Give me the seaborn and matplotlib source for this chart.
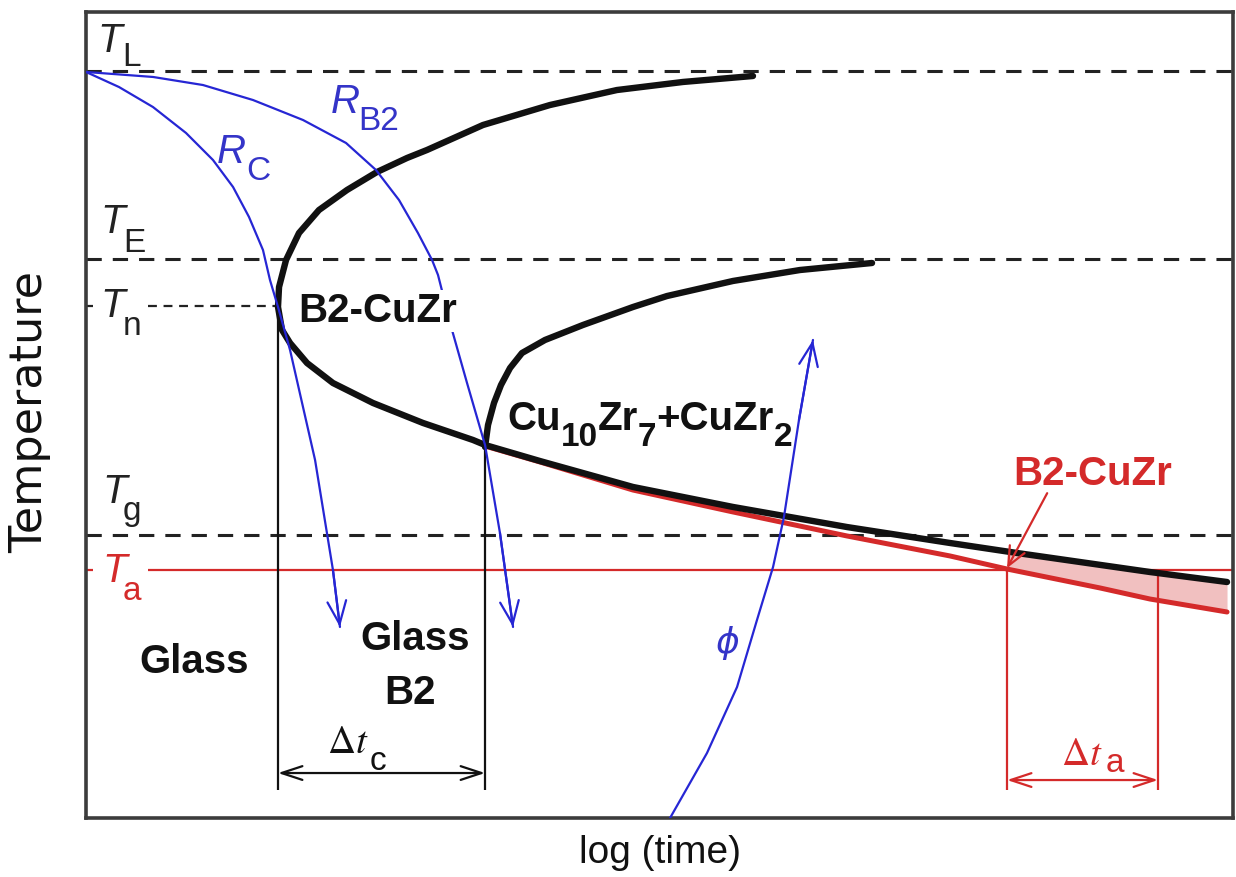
import numpy as np
import matplotlib
matplotlib.use("Agg")
import matplotlib.pyplot as plt
import seaborn as sns

# ---------------- data (arbitrary units: log time 0-100, temperature 0-100) -------------
T_L, T_E, T_n, T_g, T_a = 92.68, 69.35, 63.52, 35.11, 30.77

# B2-CuZr C-curve (upper branch -> nose -> lower branch)
b2_x = [58.15, 52.05, 46.29, 40.45, 34.61, 29.73, 27.99, 25.37, 22.76, 20.31, 18.57, 17.44,
        16.83, 16.74, 17.09, 17.79, 19.27, 21.53, 25.02, 29.38, 33.74, 34.79, 39.58, 47.69,
        56.41, 66.35, 75.33, 81.17, 92.76, 99.48]
b2_y = [92.06, 91.32, 90.32, 88.46, 85.98, 82.88, 81.89, 80.15, 77.92, 75.43, 72.58, 69.23,
        65.88, 63.40, 60.55, 58.93, 56.45, 53.97, 51.49, 49.01, 46.90, 46.28, 44.29, 41.07,
        38.59, 36.10, 34.12, 32.88, 30.52, 29.28]

# Cu10Zr7 + CuZr2 curve
cz_x = [34.79, 35.05, 35.57, 36.18, 36.97, 38.01, 40.02, 43.33, 47.69, 50.65, 56.41, 62.25, 68.53]
cz_y = [46.03, 48.76, 51.49, 53.72, 55.83, 57.69, 59.31, 61.17, 63.40, 64.76, 66.63, 67.99, 68.86]

# B2-CuZr curve (red)
red_x = [34.79, 39.58, 47.69, 56.41, 66.35, 75.33, 80.30, 88.41, 92.76, 99.48]
red_y = [46.15, 44.17, 40.69, 37.97, 34.99, 32.51, 30.89, 28.54, 27.17, 25.56]

# shaded region between the two curves
fill_x = [80.30, 84.05, 88.41, 92.76, 97.12, 99.48]
fill_hi = [33.00, 32.26, 31.39, 30.52, 29.78, 29.28]
fill_lo = [30.89, 29.65, 28.54, 27.17, 26.18, 25.56]

# cooling / heating paths
rc_x = [0.00, 2.88, 5.84, 8.72, 11.07, 12.82, 14.21, 15.43, 16.04, 16.74, 17.79, 18.74, 19.97, 21.53, 22.14]
rc_y = [92.56, 90.69, 88.21, 84.99, 81.64, 78.29, 74.57, 70.47, 66.75, 63.40, 58.06, 52.11, 44.42, 30.77, 23.70]
rb_x = [0.00, 5.84, 10.20, 14.56, 18.92, 22.67, 25.28, 27.29, 28.94, 30.17, 30.69, 31.91, 33.22, 34.79, 36.09, 37.23]
rb_y = [92.56, 91.94, 90.94, 89.08, 86.60, 83.75, 80.40, 76.67, 72.58, 69.23, 67.37, 60.55, 53.97, 46.28, 35.36, 23.70]
phi_x = [50.92, 54.14, 56.76, 58.50, 59.90, 60.85, 62.16, 63.38]
phi_y = [0.00, 8.06, 16.25, 24.57, 31.14, 37.34, 49.38, 59.31]

# time intervals
dtc = (16.74, 34.79)
dta = (80.30, 93.46)

BLUE = "#2626d4"
BLUE_T = "#3434c8"
RED = "#d42a2a"
PINK = "#f1c0c0"
BLACK = "#111111"
DGRAY = "#222222"

sns.set_theme(style="white")
plt.rcParams["font.family"] = ["Liberation Sans", "DejaVu Sans"]

fig, ax = plt.subplots(figsize=(12.36, 8.77), dpi=100)
fig.subplots_adjust(left=86 / 1236, right=1233 / 1236, bottom=(877 - 818) / 877, top=(877 - 12) / 877)
ax.set_xlim(0, 100)
ax.set_ylim(0, 100)
ax.set_xticks([])
ax.set_yticks([])
for s in ax.spines.values():
    s.set_color("#3c3c3c")
    s.set_linewidth(2.6)

dash = (0, (5, 3.6))
for lvl in (T_L, T_E, T_g):
    ax.axhline(lvl, color=DGRAY, lw=2.2, ls=dash, zorder=1)
ax.hlines(T_n, 0, 0.6, color=DGRAY, lw=1.6, zorder=1)
ax.hlines(T_n, 5.4, dtc[0], color=DGRAY, lw=1.6, ls=(0, (4, 3)), zorder=1)
ax.hlines(T_a, 0, 0.6, color=RED, lw=1.6, zorder=1)
ax.hlines(T_a, 5.4, 100, color=RED, lw=1.6, zorder=1)

ax.fill_between(fill_x, fill_lo, fill_hi, color=PINK, lw=0, zorder=1.5)

sns.lineplot(x=red_x, y=red_y, sort=False, estimator=None, color=RED, lw=3.6, ax=ax, zorder=2)
sns.lineplot(x=b2_x, y=b2_y, sort=False, estimator=None, color=BLACK, lw=4.6, ax=ax, zorder=3)
sns.lineplot(x=cz_x, y=cz_y, sort=False, estimator=None, color=BLACK, lw=4.6, ax=ax, zorder=3)
for ln in ax.lines:
    ln.set_solid_joinstyle("round")

HEAD = "->,head_length=1.1,head_width=0.45"
for xs, ys in ((rc_x, rc_y), (rb_x, rb_y), (phi_x, phi_y)):
    sns.lineplot(x=xs, y=ys, sort=False, estimator=None, color=BLUE, lw=1.6, ax=ax, zorder=4)
    ax.annotate("", xy=(xs[-1], ys[-1]), xytext=(xs[-2], ys[-2]),
                arrowprops=dict(arrowstyle=HEAD, color=BLUE, lw=1.6, shrinkA=0, shrinkB=0,
                                mutation_scale=15), zorder=4)

bottom = 3.47
ax.vlines([dtc[0]], bottom, T_n, color=BLACK, lw=1.6, zorder=2)
ax.vlines([dtc[1]], bottom, cz_y[0], color=BLACK, lw=1.6, zorder=2)
ax.annotate("", xy=(dtc[1], 5.58), xytext=(dtc[0], 5.58),
            arrowprops=dict(arrowstyle="<->,head_length=1.0,head_width=0.33", color=BLACK,
                            lw=1.6, shrinkA=0, shrinkB=0, mutation_scale=15))
ax.vlines(list(dta), bottom, T_a, color=RED, lw=1.6, zorder=2)
ax.annotate("", xy=(dta[1], 4.71), xytext=(dta[0], 4.71),
            arrowprops=dict(arrowstyle="<->,head_length=1.0,head_width=0.33", color=RED,
                            lw=1.6, shrinkA=0, shrinkB=0, mutation_scale=15))

ax.annotate("", xy=(80.3, 31.0), xytext=(83.8, 40.3),
            arrowprops=dict(arrowstyle="->,head_length=0.9,head_width=0.4", color=RED,
                            lw=1.6, shrinkA=0, shrinkB=0, mutation_scale=15), zorder=5)

# ---- temperature labels ----
TS, SS = 29, 24
def tlabel(x, y, main, sub, sx, sy, color=DGRAY):
    ax.text(x, y, main, fontsize=TS, style="italic", color=color, ha="left", va="baseline", zorder=6)
    ax.text(sx, sy, sub, fontsize=SS, color=color, ha="left", va="baseline", zorder=6)

tlabel(0.96, 95.04, "T", "L", 3.14, 93.30)
tlabel(1.22, 72.58, "T", "E", 3.23, 70.22)
tlabel(1.22, 62.16, "T", "n", 3.23, 59.93)
tlabel(1.39, 39.08, "T", "g", 3.23, 36.97)
tlabel(1.39, 29.28, "T", "a", 3.23, 27.05, color=RED)

tlabel(11.42, 81.27, "R", "C", 13.95, 79.16, color=BLUE_T)
tlabel(21.36, 87.47, "R", "B2", 23.71, 85.36, color=BLUE_T)
ax.text(55.97, 21.7, "\u03d5", fontsize=26, style="italic", family="DejaVu Sans", color=BLUE_T,
        ha="center", va="center", zorder=6)

# phase labels
BS, BSS = 29, 24
def chain(x, y, pieces, color=BLACK, drop=11.0):
    first = ax.text(x, y, pieces[0], fontsize=BS, weight="bold", color=color, va="baseline", zorder=6)
    prev = first
    for i, txt in enumerate(pieces[1:], start=1):
        sub = (i % 2 == 1)
        prev = ax.annotate(txt, xy=(1, 0), xycoords=(prev, first), xytext=(0, -drop if sub else 0),
                           textcoords="offset points", fontsize=BSS if sub else BS, weight="bold",
                           color=color, ha="left", va="bottom", zorder=6)

ax.text(18.48, 61.54, "B2-CuZr", fontsize=BS, weight="bold", color=BLACK, va="baseline",
        zorder=6, bbox=dict(fc="white", ec="none", pad=1.5))
chain(36.70, 48.14, ["Cu", "10", "Zr", "7", "+CuZr", "2"])
ax.text(80.82, 41.32, "B2-CuZr", fontsize=BS, weight="bold", color=RED, va="baseline", zorder=6)
ax.text(9.42, 17.99, "Glass", fontsize=BS, weight="bold", color=BLACK, ha="center", va="baseline")
ax.text(28.68, 20.84, "Glass", fontsize=BS, weight="bold", color=BLACK, ha="center", va="baseline")
ax.text(28.25, 14.14, "B2", fontsize=BS, weight="bold", color=BLACK, ha="center", va="baseline")

# interval labels
ax.text(21.0, 8.06, r"$\Delta t$", fontsize=28, math_fontfamily="stix", color=BLACK, va="baseline")
ax.text(24.75, 5.96, "c", fontsize=SS, color=BLACK, va="baseline")
ax.text(85.0, 6.58, r"$\Delta t$", fontsize=28, math_fontfamily="stix", color=RED, va="baseline")
ax.text(88.9, 5.71, "a", fontsize=SS, color=RED, va="baseline")

# axis titles
fig.text(660 / 1236, 1 - 853 / 877, "log (time)", fontsize=28, color=BLACK, ha="center", va="center")
fig.text(30 / 1236, 1 - 412 / 877, "Temperature", fontsize=32, family="DejaVu Sans", color=BLACK,
         ha="center", va="center", rotation=90)

fig.savefig("out.png", dpi=100, facecolor="white")
